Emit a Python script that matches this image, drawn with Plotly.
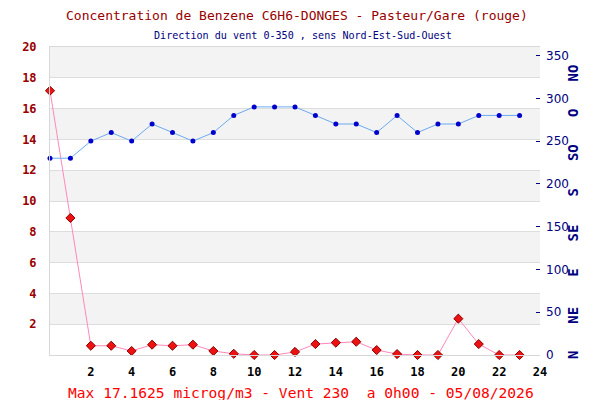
import plotly.graph_objects as go

# hourly values, 0h -> 23h
hours = list(range(24))
benzene = [17.16, 8.9, 0.6, 0.6, 0.26, 0.67, 0.6, 0.67, 0.26, 0.08, 0.0, 0.0,
           0.2, 0.71, 0.8, 0.86, 0.32, 0.06, 0.0, 0.0, 2.36, 0.71, 0.0, 0.0]
wind_dir = [230, 230, 250, 260, 250, 270, 260, 250, 260, 280, 290, 290,
            290, 280, 270, 270, 260, 280, 260, 270, 270, 280, 280, 280]

compass_labels = ["N", "NE", "E", "SE", "S", "SO", "O", "NO"]
compass_pos = [0, 46, 96, 142, 190, 236, 283, 329]

MONO = "DejaVu Sans Mono"
DARKRED = "#990000"
NAVY = "#000080"

fig = go.Figure()

# alternating grey bands every 2 units
for y0 in range(2, 20, 4):
    fig.add_shape(type="rect", xref="paper", yref="y", x0=0, x1=1, y0=y0, y1=y0 + 2,
                  fillcolor="#f3f3f3", line_width=0, layer="below")

fig.add_trace(go.Scatter(
    x=hours, y=wind_dir, yaxis="y2", mode="lines+markers",
    line=dict(color="#6aaaf0", width=1),
    marker=dict(color="#0000cc", size=5),
    cliponaxis=False, showlegend=False,
))
fig.add_trace(go.Scatter(
    x=hours, y=benzene, mode="lines+markers",
    line=dict(color="#ff88bb", width=1),
    marker=dict(symbol="diamond", color="#ee1111", size=7,
                line=dict(color="#880000", width=1)),
    cliponaxis=False, showlegend=False,
))

for lab, pos in zip(compass_labels, compass_pos):
    fig.add_annotation(x=1, xref="paper", xanchor="center", xshift=33, y=pos, yref="y2",
                       text="<b>%s</b>" % lab, showarrow=False, textangle=-90,
                       font=dict(family=MONO, size=14, color=NAVY))

fig.add_annotation(x=0.504, y=1.0, xref="paper", yref="paper", yanchor="middle", yshift=32,
                   text="Concentration de Benzene C6H6-DONGES - Pasteur/Gare (rouge)",
                   showarrow=False, font=dict(family=MONO, size=13, color=DARKRED))
fig.add_annotation(x=0.517, y=1.0, xref="paper", yref="paper", yanchor="middle", yshift=12,
                   text="Direction du vent 0-350 , sens Nord-Est-Sud-Ouest",
                   showarrow=False, font=dict(family=MONO, size=10.1, color=NAVY))
fig.add_annotation(x=0.512, y=0, xref="paper", yref="paper", yanchor="middle", yshift=-37,
                   text="Max 17.1625 microg/m3 - Vent 230  a 0h00 - 05/08/2026",
                   showarrow=False, font=dict(family=MONO, size=14.6, color="#ff0000"))

fig.update_layout(
    width=600, height=400,
    margin=dict(l=42, r=68, t=39, b=53),
    paper_bgcolor="white", plot_bgcolor="white",
    xaxis=dict(range=[0, 24], tickvals=list(range(2, 25, 2)), showgrid=False,
               zeroline=False, showline=True, linecolor="#d8d8d8", mirror=True,
               ticks="", ticklabelstandoff=6,
               tickfont=dict(family=MONO, size=12, color="black", weight="bold")),
    yaxis=dict(range=[0, 20], tickvals=list(range(2, 21, 2)), showgrid=True,
               gridcolor="#dddddd", zeroline=False, showline=True, linecolor="#d8d8d8",
               ticks="", ticklabelstandoff=10,
               tickfont=dict(family=MONO, size=12, color=DARKRED, weight="bold")),
    yaxis2=dict(range=[0, 360], overlaying="y", side="right",
                tickvals=list(range(0, 351, 50)), showgrid=False, zeroline=False,
                ticks="inside", ticklen=4, tickcolor=NAVY, ticklabelstandoff=5,
                tickfont=dict(family="DejaVu Sans", size=12, color=NAVY)),
)

fig.write_html("out.html")
